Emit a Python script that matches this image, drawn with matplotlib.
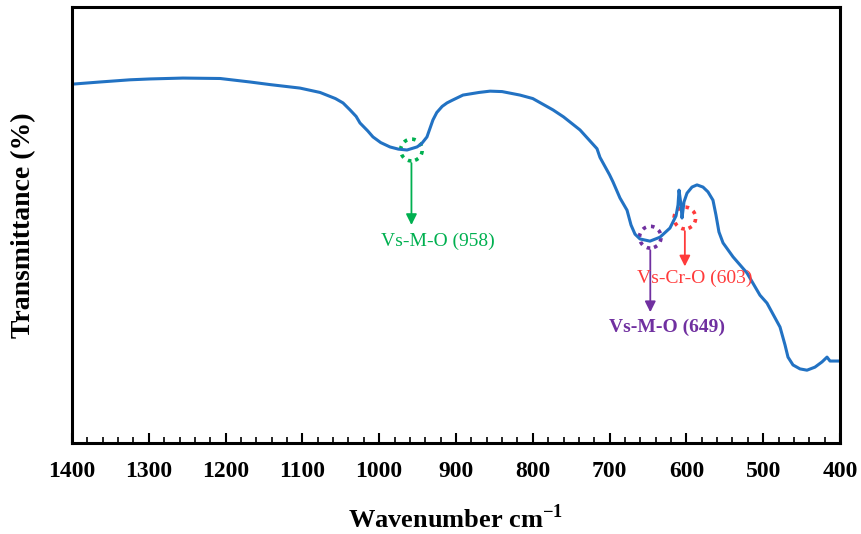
import matplotlib.pyplot as plt
import numpy as np
from matplotlib.patches import Ellipse
from matplotlib.ticker import MultipleLocator

plt.rcParams["font.family"] = ["Liberation Serif", "DejaVu Serif"]
plt.rcParams["mathtext.fontset"] = "custom"
plt.rcParams["mathtext.rm"] = "Liberation Serif"
plt.rcParams["mathtext.bf"] = "Liberation Serif:bold"

# FTIR spectrum (wavenumber cm-1, transmittance arb. %)
wavenumber = [
    1400, 1363.5, 1324.6, 1298, 1255.5, 1207, 1168.2, 1142, 1103.1, 1077,
    1057, 1047.1, 1038.0, 1030, 1025.0, 1015, 1008.1, 998, 985.9, 975,
    963.8, 950.8, 945, 937.8, 930.0, 925, 918, 911.7, 905, 890.9,
    870, 855.7, 840, 816.7, 800, 773.7, 760, 738.5, 716.4, 712.5,
    700, 695.6, 686.5, 677.3, 672.1, 666.9, 660.4, 647.4, 634.4, 621.4,
    613.5, 610.9, 609.6, 607.0, 605.7, 603.1, 599.2, 592.7, 586.2, 578.4,
    571.9, 565.4, 561.5, 557.6, 552.3, 539.3, 521.1, 504.2, 495.1, 478.1,
    471.6, 467.7, 461.2, 452.1, 443.0, 432.6, 423.4, 416.9, 413.0, 400.0,
]
transmittance = [
    82.3, 82.8, 83.3, 83.5, 83.7, 83.6, 82.8, 82.2, 81.4, 80.4,
    79.0, 78.0, 76.4, 74.9, 73.4, 71.6, 70.2, 68.9, 67.9, 67.4,
    67.2, 67.9, 68.6, 70.2, 74.1, 75.8, 77.2, 78.0, 78.6, 79.8,
    80.4, 80.7, 80.6, 79.8, 79.0, 76.4, 74.8, 71.8, 67.5, 65.5,
    61.5, 59.9, 56.2, 53.4, 50.0, 47.9, 46.8, 46.3, 47.2, 49.3,
    52.1, 54.6, 58.0, 54.6, 51.6, 55.3, 57.3, 58.7, 59.2, 58.7,
    57.6, 55.7, 52.3, 48.4, 45.9, 42.7, 39.0, 33.9, 32.1, 26.6,
    22.5, 19.7, 17.9, 17.0, 16.7, 17.4, 18.6, 19.7, 18.8, 18.8,
]

# band assignments: circle centre, arrow end, label position
band_labels = ["Vs-M-O (958)", "Vs-M-O (649)", "Vs-Cr-O (603)"]
band_x = [958, 647, 602]
band_y = [67.2, 47.2, 51.6]
arrow_end_y = [50.0, 30.0, 40.5]
label_x = [924, 625, 589]
label_y = [46.3, 26.6, 37.8]
band_colors = ["#00B050", "#7030A0", "#FF3B3B"]
band_weights = ["normal", "bold", "normal"]

fig = plt.figure(figsize=(8.61, 5.34), dpi=100)
ax = fig.add_axes([0.0836, 0.1704, 0.8920, 0.8165])

ax.plot(wavenumber, transmittance, color="#2272C3", linewidth=2.2)

for x, y, y_end, lx, ly, text, color, weight in zip(
    band_x, band_y, arrow_end_y, label_x, label_y, band_labels, band_colors, band_weights
):
    ax.add_patch(Ellipse((x, y), width=28, height=5.0, fill=False,
                         edgecolor=color, linestyle=(0, (1, 1.4)), linewidth=2.6))
    ax.annotate("", xy=(x, y_end), xytext=(x, y - 3.0),
                arrowprops=dict(arrowstyle="-|>", color=color, lw=1.3,
                                mutation_scale=16, shrinkA=0, shrinkB=0))
    ax.text(lx, ly, text, color=color, fontsize=14, fontweight=weight,
            ha="center", va="center")

ax.set_xlim(1400, 400)
ax.set_ylim(0, 100)
ax.xaxis.set_major_locator(MultipleLocator(100))
ax.xaxis.set_minor_locator(MultipleLocator(20))
ax.set_yticks([])
ax.tick_params(axis="x", which="major", direction="in", length=7, width=1.5,
               labelsize=17, pad=13, top=False)
ax.tick_params(axis="x", which="minor", direction="in", length=4, width=1.2, top=False)
for label in ax.get_xticklabels():
    label.set_fontweight("bold")
for spine in ax.spines.values():
    spine.set_linewidth(2.2)

ax.set_xlabel("Wavenumber cm$^{\\mathbf{-1}}$", fontsize=19, fontweight="bold", labelpad=16)
ax.set_ylabel("Transmittance (%)", fontsize=20, fontweight="bold", labelpad=26)

fig.savefig("out.png", dpi=100)
